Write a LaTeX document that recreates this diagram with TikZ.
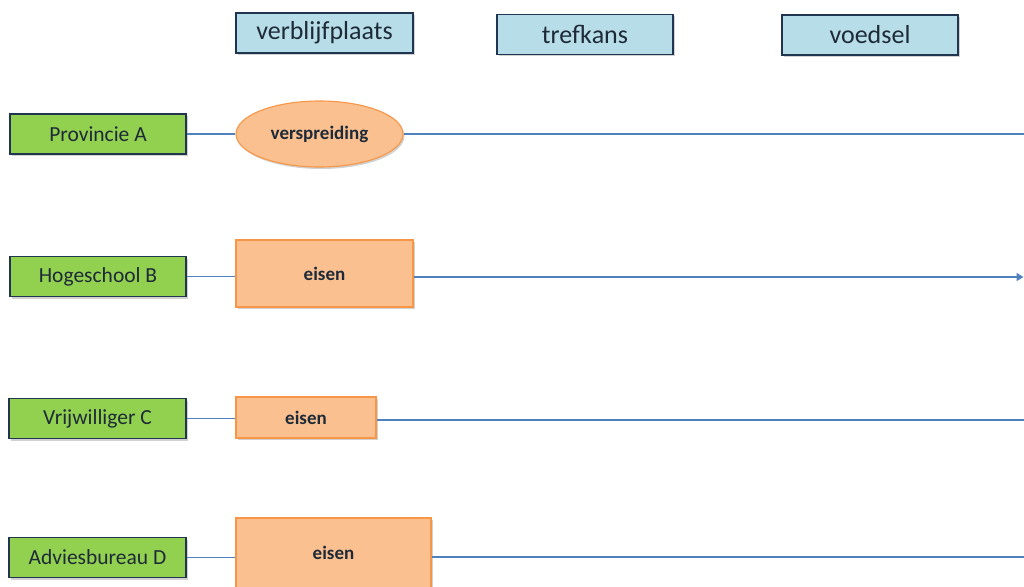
\documentclass[tikz,border=0pt]{standalone}
\usepackage{fontspec}
\setmainfont{Carlito}
\usetikzlibrary{shapes.geometric,shadows,arrows.meta}
\definecolor{headfill}{HTML}{B7DEE8}
\definecolor{actorfill}{HTML}{92D050}
\definecolor{taskfill}{HTML}{FAC090}
\definecolor{taskline}{HTML}{F79646}
\definecolor{frame}{HTML}{1F3550}
\definecolor{ink}{HTML}{1E2A38}
\definecolor{flow}{HTML}{4F81BD}
\tikzset{
  boxshadow/.style={drop shadow={shadow xshift=1.5pt,shadow yshift=-2pt,opacity=0.3,fill=black!60}},
  header/.style={draw=frame,line width=1.1pt,fill=headfill,boxshadow,inner sep=0pt,
    minimum width=176pt,minimum height=40pt,text=ink,font=\fontsize{26}{26}\selectfont},
  actor/.style={draw=frame,line width=1.1pt,fill=actorfill,boxshadow,inner sep=0pt,
    minimum width=176pt,minimum height=40pt,text=ink,font=\fontsize{21.5}{21.5}\selectfont},
  task/.style={draw=taskline,line width=1.1pt,fill=taskfill,boxshadow,inner sep=0pt,
    text=ink,font=\fontsize{19}{19}\selectfont\bfseries},
  flowline/.style={draw=flow,line width=1.5pt}
}
\begin{document}
\begin{tikzpicture}[x=1pt,y=-1pt]
\useasboundingbox (0,0) rectangle (1024,586);
% column headers
\node[header,minimum width=177pt] (h1) at (324.5,33) {verblijfplaats};
\node[header] (h2) at (585,34.5) {trefkans};
\node[header] (h3) at (870,35) {voedsel};
% parties
\node[actor] (pa) at (98,134) {Provincie A};
\node[actor] (pb) at (98,276.5) {Hogeschool B};
\node[actor,minimum width=177pt] (pc) at (97.5,418.5) {Vrijwilliger C};
\node[actor,minimum width=177pt] (pd) at (97.5,557.5) {Adviesbureau D};
% tasks
\node[task,ellipse,minimum width=167pt,minimum height=66pt] (ta) at (319.5,134) {verspreiding};
\node[task,rectangle,minimum width=177pt,minimum height=67pt] (tb) at (324.5,273.5) {eisen};
\node[task,rectangle,minimum width=140pt,minimum height=41pt] (tc) at (306,417.5) {eisen};
\node[task,rectangle,minimum width=195pt,minimum height=70pt] (td) at (333.5,553) {eisen};
% line ends at the right edge
\coordinate (ea) at (1024,134);
\coordinate (eb) at (1023.5,277);
\coordinate (ec) at (1024,420);
\coordinate (ed) at (1024,557);
% flows
\draw[flowline] (pa.east) -- (ta.west);
\draw[flowline] (ta.east) -- (ea);
\draw[flowline] (pb.east) -- (tb.west |- pb.east);
\draw[flowline,-{Triangle[length=7pt,width=8pt]}] (tb.east |- eb) -- (eb);
\draw[flowline] (pc.east) -- (tc.west |- pc.east);
\draw[flowline] (tc.east |- ec) -- (ec);
\draw[flowline] (pd.east) -- (td.west |- pd.east);
\draw[flowline] (td.east |- ed) -- (ed);
\end{tikzpicture}
\end{document}
